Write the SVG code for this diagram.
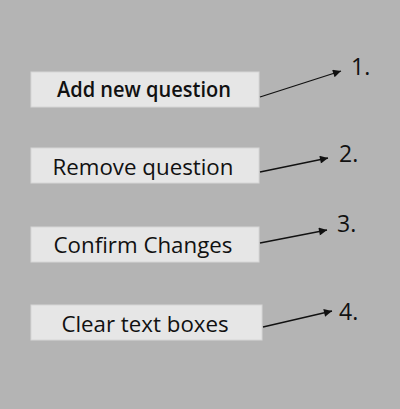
<svg xmlns="http://www.w3.org/2000/svg" width="400" height="409" viewBox="0 0 400 409">
<style>
.btn{fill:#e6e6e6;stroke:#d6d6d6;stroke-width:1}
.t{font-family:"Open Sans","Noto Sans","Liberation Sans",sans-serif;font-size:22.3px;fill:#111;text-anchor:middle}
.b{font-weight:600;font-size:21.5px}
.n{font-family:"Open Sans","Noto Sans","Liberation Sans",sans-serif;font-size:23px;fill:#111}
.c{stroke:#111;stroke-width:1.3;fill:none;marker-end:url(#ah)}
</style>
<defs>
<marker id="ah" viewBox="0 0 10 10" refX="10" refY="5" markerWidth="10" markerHeight="8" markerUnits="userSpaceOnUse" orient="auto">
<path d="M0,0 L10,5 L0,10 z" fill="#111"/>
</marker>
</defs>
<rect width="400" height="409" fill="#b4b4b4"/>
<g id="node1"><rect class="btn" x="31" y="72" width="228" height="35"/><text class="t b" x="144" y="97" textLength="174" lengthAdjust="spacingAndGlyphs">Add new question</text></g>
<g id="node2"><rect class="btn" x="31" y="148" width="228" height="35"/><text class="t" x="143" y="175">Remove question</text></g>
<g id="node3"><rect class="btn" x="31" y="227" width="228" height="35"/><text class="t" x="143" y="253">Confirm Changes</text></g>
<g id="node4"><rect class="btn" x="31" y="305" width="231" height="35"/><text class="t" x="145" y="332">Clear text boxes</text></g>
<g id="label1"><text class="n" x="351" y="75">1.</text></g>
<g id="label2"><text class="n" x="339" y="162">2.</text></g>
<g id="label3"><text class="n" x="337" y="232">3.</text></g>
<g id="label4"><text class="n" x="339" y="320">4.</text></g>
<g id="connectors">
<line class="c" x1="260" y1="97" x2="341" y2="71"/>
<line class="c" x1="260" y1="172" x2="328" y2="158"/>
<line class="c" x1="260" y1="243" x2="327" y2="230"/>
<line class="c" x1="263" y1="327" x2="332" y2="311"/>
</g>
</svg>
